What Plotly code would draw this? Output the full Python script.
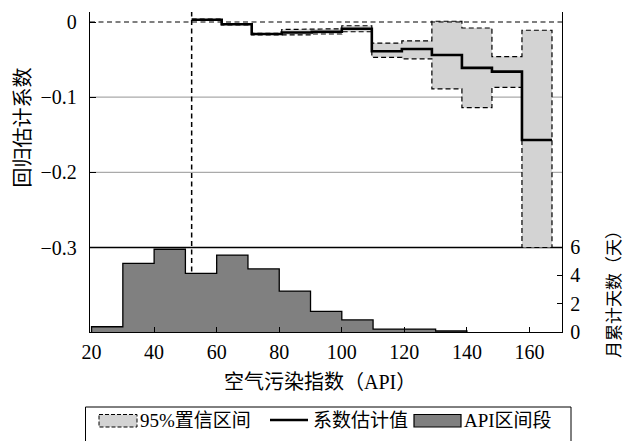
import plotly.graph_objects as go

# ---- data ----
coef_edges = [52.0, 61.6, 71.2, 80.8, 90.4, 100.0, 109.6, 119.2, 128.8, 138.4, 148.0, 157.6, 167.2]
coef = [0.003, -0.003, -0.016, -0.014, -0.013, -0.009, -0.039, -0.036, -0.044, -0.061, -0.066, -0.157]
ci_hi = [0.004, -0.002, -0.015, -0.010, -0.009, -0.005, -0.028, -0.025, 0.001, -0.008, -0.046, -0.011]
ci_lo = [0.002, -0.004, -0.017, -0.017, -0.016, -0.013, -0.047, -0.049, -0.089, -0.114, -0.087, -0.300]

api_edges = [20, 30, 40, 50, 60, 70, 80, 90, 100, 110, 120, 130, 140]
api_days = [0.37, 4.85, 5.84, 4.14, 5.43, 4.45, 2.89, 1.45, 0.85, 0.21, 0.21, 0.07]

x_ticks = [20, 40, 60, 80, 100, 120, 140, 160]
y_ticks = [0, -0.1, -0.2, -0.3]
y2_ticks = [0, 2, 4, 6]
threshold = 52.0

legend_labels = ["95%置信区间", "系数估计值", "API区间段"]

SERIF = "Liberation Serif, Noto Sans CJK SC"
CJK = "Liberation Serif, Noto Sans CJK SC"

CI_FILL = "#d3d3d3"
API_FILL = "#808080"

# plot area in pixels (for legend placement in paper coords)
L, R, T, B = 90, 62, 12, 109
W, H = 624, 441
PW, PH = W - L - R, H - T - B


def px(x):
    return (x - L) / PW


def py(y):
    return (H - B - y) / PH


# ---- build step polygons from data ----
cx, cy = [], []
for i in range(len(coef)):
    cx += [coef_edges[i], coef_edges[i + 1]]
    cy += [ci_hi[i], ci_hi[i]]
for i in reversed(range(len(coef))):
    cx += [coef_edges[i + 1], coef_edges[i]]
    cy += [ci_lo[i], ci_lo[i]]
cx.append(cx[0]); cy.append(cy[0])

hx, hy = [api_edges[0]], [0]
for i, h in enumerate(api_days):
    hx += [api_edges[i], api_edges[i + 1]]
    hy += [h, h]
hx.append(api_edges[-1]); hy.append(0)

fig = go.Figure()
fig.add_trace(go.Scatter(
    x=cx, y=cy, mode="lines", fill="toself", fillcolor=CI_FILL,
    line=dict(color="black", width=1.2, dash="5px,3px"),
    name=legend_labels[0], yaxis="y", showlegend=False))
fig.add_trace(go.Scatter(
    x=coef_edges, y=coef + [coef[-1]], mode="lines", line_shape="hv",
    line=dict(color="black", width=2.6), name=legend_labels[1], yaxis="y", showlegend=False))
fig.add_trace(go.Scatter(
    x=hx, y=hy, mode="lines", fill="toself", fillcolor=API_FILL,
    line=dict(color="black", width=1.3), name=legend_labels[2], yaxis="y2", showlegend=False))

shapes = [
    dict(type="line", xref="paper", x0=0, x1=1, yref="y", y0=-0.1, y1=-0.1,
         line=dict(color="#aaaaaa", width=1.2), layer="below"),
    dict(type="line", xref="paper", x0=0, x1=1, yref="y", y0=-0.2, y1=-0.2,
         line=dict(color="#aaaaaa", width=1.2), layer="below"),
    dict(type="line", xref="paper", x0=0, x1=1, yref="y", y0=-0.3, y1=-0.3,
         line=dict(color="black", width=1.3), layer="below"),
    dict(type="line", xref="paper", x0=0, x1=1, yref="y", y0=0, y1=0,
         line=dict(color="black", width=1.2, dash="5px,3.5px"), layer="above"),
    dict(type="line", xref="x", x0=threshold, x1=threshold, yref="y", y0=-0.332, y1=0.0133,
         line=dict(color="black", width=1.5, dash="5px,3.5px"), layer="above"),
    # legend frame and keys
    dict(type="rect", xref="paper", yref="paper", x0=px(85.5), x1=px(571), y0=py(407), y1=py(452),
         line=dict(color="black", width=1), fillcolor="white", layer="above"),
    dict(type="rect", xref="paper", yref="paper", x0=px(99), x1=px(137), y0=py(414.5), y1=py(427),
         line=dict(color="black", width=1, dash="4px,2px"), fillcolor=CI_FILL, layer="above"),
    dict(type="line", xref="paper", yref="paper", x0=px(270), x1=px(308), y0=py(420), y1=py(420),
         line=dict(color="black", width=2.6), layer="above"),
    dict(type="rect", xref="paper", yref="paper", x0=px(414), x1=px(461), y0=py(414.5), y1=py(427),
         line=dict(color="black", width=1.2), fillcolor=API_FILL, layer="above"),
]

annotations = [
    dict(text="空气污染指数（API）", xref="paper", yref="paper", x=px(320), y=py(382),
         xanchor="center", yanchor="middle", showarrow=False,
         font=dict(family=CJK, size=20, color="black")),
    dict(text="回归估计系数", xref="paper", yref="paper", x=px(22.5), y=py(128),
         xanchor="center", yanchor="middle", showarrow=False, textangle=-90,
         font=dict(family=CJK, size=20, color="black")),
    dict(text="月累计天数（天）", xref="paper", yref="paper", x=px(614), y=py(290),
         xanchor="center", yanchor="middle", showarrow=False, textangle=-90,
         font=dict(family=CJK, size=17, color="black")),
]
for lx, lab in zip([138, 311, 462], legend_labels):
    annotations.append(dict(text=lab, xref="paper", yref="paper", x=px(lx), y=py(420.5),
                            xanchor="left", yanchor="middle", showarrow=False,
                            font=dict(family=CJK, size=19, color="black")))

fig.update_layout(
    width=W, height=H,
    margin=dict(l=L, r=R, t=T, b=B, autoexpand=False),
    plot_bgcolor="white", paper_bgcolor="white",
    showlegend=False,
    xaxis=dict(range=[19.5, 170.4], tickvals=x_ticks, ticks="inside", ticklen=5,
               tickcolor="black", showline=True, linecolor="black", linewidth=1.3,
               showgrid=False, zeroline=False,
               tickfont=dict(family=SERIF, size=20, color="black"), ticklabelstandoff=2),
    yaxis=dict(range=[-0.4124, 0.0133], tickvals=y_ticks, ticktext=["0", "−0.1", "−0.2", "−0.3"],
               ticks="inside", ticklen=6, tickcolor="black", showline=True, linecolor="black",
               linewidth=1.3, showgrid=False, zeroline=False,
               tickfont=dict(family=SERIF, size=20, color="black"), ticklabelstandoff=8),
    yaxis2=dict(range=[0, 22.59], tickvals=y2_ticks, overlaying="y", side="right",
                ticks="inside", ticklen=5, tickcolor="black", showline=True, linecolor="black",
                linewidth=1.3, showgrid=False, zeroline=False,
                tickfont=dict(family=SERIF, size=20, color="black"), ticklabelstandoff=3),
    shapes=shapes,
    annotations=annotations,
)

fig.write_html("out.html")
